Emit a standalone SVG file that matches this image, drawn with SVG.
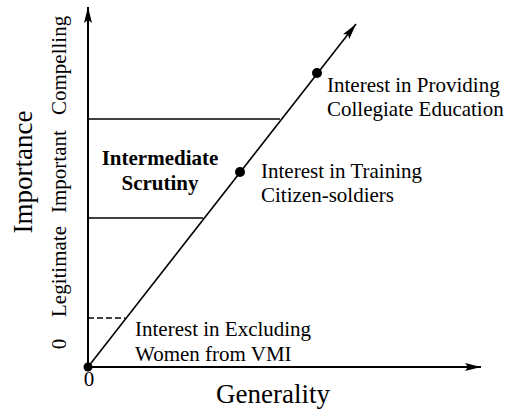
<svg xmlns="http://www.w3.org/2000/svg" width="506" height="411" viewBox="0 0 506 411">
<defs>
<marker id="arr" viewBox="0 0 16 8" refX="16" refY="4" markerWidth="16" markerHeight="8" markerUnits="userSpaceOnUse" orient="auto">
<path d="M0,0 L16,4 L0,8 L3,4 Z" fill="#000"/>
</marker>
<style>
text{font-family:"Liberation Serif","Times New Roman",serif;fill:#000}
.t{font-size:21px}
.b{font-size:21px;font-weight:bold}
.ax{font-size:27px}
.ln{stroke:#000;stroke-width:1.6;fill:none}
.axis{stroke:#000;stroke-width:2;fill:none}
</style>
</defs>
<rect width="506" height="411" fill="#fff"/>
<g id="connectors">
<line class="axis" x1="88" y1="367" x2="88" y2="7" marker-end="url(#arr)"/>
<line class="axis" x1="88" y1="367" x2="481" y2="367" marker-end="url(#arr)"/>
<line class="ln" x1="88" y1="367" x2="356" y2="24" marker-end="url(#arr)"/>
<line class="ln" x1="88" y1="119" x2="280" y2="119"/>
<line class="ln" x1="88" y1="218" x2="203" y2="218"/>
<line class="ln" x1="88" y1="318" x2="125" y2="318" stroke-dasharray="6,3"/>
</g>
<g id="origin"><circle cx="88" cy="367" r="4.5"/></g>
<g id="collegiate">
<circle cx="317" cy="73" r="5"/>
<text class="t" x="327" y="92">Interest in Providing</text>
<text class="t" x="327" y="116">Collegiate Education</text>
</g>
<g id="citizen">
<circle cx="240" cy="172" r="5"/>
<text class="t" x="261" y="178">Interest in Training</text>
<text class="t" x="261" y="202">Citizen-soldiers</text>
</g>
<g id="excluding">
<text class="t" x="135" y="336">Interest in Excluding</text>
<text class="t" x="135" y="361">Women from VMI</text>
</g>
<g id="intermediate">
<text class="b" x="160" y="165" text-anchor="middle">Intermediate</text>
<text class="b" x="160" y="190" text-anchor="middle">Scrutiny</text>
</g>
<g id="labels">
<text class="t" x="89" y="386" text-anchor="middle">0</text>
<text class="ax" x="273" y="403" text-anchor="middle">Generality</text>
<text class="ax" transform="translate(32,172) rotate(-90)" text-anchor="middle">Importance</text>
<text class="t" transform="translate(66,344) rotate(-90)" text-anchor="middle">0</text>
<text class="t" transform="translate(66,317) rotate(-90)">Legitimate</text>
<text class="t" transform="translate(66,213) rotate(-90)">Important</text>
<text class="t" transform="translate(66,115) rotate(-90)">Compelling</text>
</g>
</svg>
